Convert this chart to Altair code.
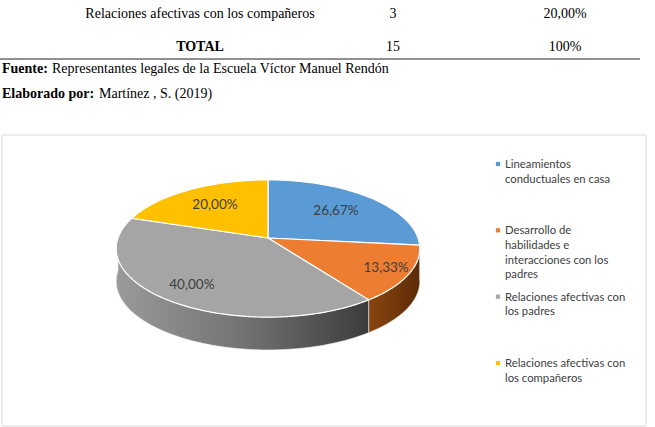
import math
import altair as alt
import pandas as pd

# ---------------- data ----------------
categorias = [
    "Lineamientos conductuales en casa",
    "Desarrollo de habilidades e interacciones con los padres",
    "Relaciones afectivas con los padres",
    "Relaciones afectivas con los compañeros",
]
frecuencias = [4, 2, 6, 3]
etiquetas = ["26,67%", "13,33%", "40,00%", "20,00%"]
leyenda = [
    "Lineamientos\nconductuales en casa",
    "Desarrollo de\nhabilidades e\ninteracciones con los\npadres",
    "Relaciones afectivas con\nlos padres",
    "Relaciones afectivas con\nlos compañeros",
]

fila_textos = ["Relaciones afectivas con los compañeros", "3", "20,00%"]
total_textos = ["TOTAL", "15", "100%"]
fuente_titulo = "Fuente:"
fuente_texto = "Representantes legales de la Escuela Víctor Manuel Rendón"
elaborado_titulo = "Elaborado por:"
elaborado_texto = "Martínez , S. (2019)"

# ---------------- style ----------------
colores = ["#5B9BD5", "#ED7D31", "#A5A5A5", "#FFC000"]
radio_etiqueta = [0.65, 0.85, 0.78, 0.65]
K = 0.153      # perspective
PROF = 0.49    # side depth (in y units)

def proj(ang, f=1.0):
    t = math.radians(ang)
    X = f * math.sin(t)
    Z = f * math.cos(t)
    d = 1 + K * Z
    return X / d, Z / d

total = sum(frecuencias)
top_rows, side_rows, lab_rows = [], [], []
acum = 0
for i, (cat, fr) in enumerate(zip(categorias, frecuencias)):
    a0 = acum * 360.0 / total
    acum += fr
    a1 = acum * 360.0 / total
    n = max(2, int(a1 - a0) + 1)
    angs = [a0 + (a1 - a0) * j / (n - 1) for j in range(n)]
    top_rows.append(dict(cat=cat, s=i, o=0, x=0.0, y=0.0))
    for j, a in enumerate(angs):
        x, y = proj(a)
        top_rows.append(dict(cat=cat, s=i, o=j + 1, x=x, y=y))
    s0, s1 = max(a0, 90.0), min(a1, 270.0)
    if s1 > s0:
        m = max(2, int(s1 - s0) + 1)
        sa = [s0 + (s1 - s0) * j / (m - 1) for j in range(m)]
        o = 0
        for a in sa:
            x, y = proj(a)
            side_rows.append(dict(cat=cat, s=i, o=o, x=x, y=y)); o += 1
        for a in reversed(sa):
            x, y = proj(a)
            side_rows.append(dict(cat=cat, s=i, o=o, x=x, y=y - PROF)); o += 1
    lx, ly = proj((a0 + a1) / 2, radio_etiqueta[i])
    lab_rows.append(dict(cat=cat, x=lx, y=ly, t=etiquetas[i]))

top_df = pd.DataFrame(top_rows)
side_df = pd.DataFrame(side_rows)
lab_df = pd.DataFrame(lab_rows)
leg_df = pd.DataFrame(dict(cat=categorias, leyenda=leyenda))

xs = alt.Scale(domain=[-1, 1], range=[118, 418], zero=False, nice=False)
ys = alt.Scale(domain=[-1, 1], range=[305, 171], zero=False, nice=False)
col = alt.Color("cat:N", scale=alt.Scale(domain=categorias, range=colores), legend=None)

X = alt.X("x:Q", scale=xs, axis=None)
Y = alt.Y("y:Q", scale=ys, axis=None)

# chart frame
frame = alt.Chart(pd.DataFrame({"a": [0]})).mark_rect(
    fill="white", stroke="#d9d9d9", strokeWidth=1
).encode(x=alt.value(2), x2=alt.value(646), y=alt.value(135), y2=alt.value(426))

side_fills = {
    0: "#2f5f8c",
    1: alt.Gradient(gradient="linear", x1=0, x2=1, y1=0, y2=0,
                    stops=[alt.GradientStop(color="#8a4510", offset=0),
                           alt.GradientStop(color="#5c2b07", offset=1)]),
    2: alt.Gradient(gradient="linear", x1=0, x2=1, y1=0, y2=0,
                    stops=[alt.GradientStop(color="#9a9a9a", offset=0),
                           alt.GradientStop(color="#737373", offset=0.5),
                           alt.GradientStop(color="#3c3c3c", offset=1)]),
    3: "#b08500",
}
side_layers = []
for s in sorted(side_df["s"].unique()):
    side_layers.append(
        alt.Chart(side_df[side_df["s"] == s]).mark_line(
            filled=True, interpolate="linear-closed", fill=side_fills[int(s)],
            stroke="#f2f2f2", strokeWidth=0.6
        ).encode(x=X, y=Y, order="o:Q", detail="s:N")
    )

tops = alt.Chart(top_df).mark_line(
    filled=True, interpolate="linear-closed", stroke="white", strokeWidth=1.2
).encode(x=X, y=Y, order="o:Q", detail="s:N", color=col)

labels = alt.Chart(lab_df).mark_text(
    font="Lato", fontSize=13.5, color="#404040"
).encode(x=X, y=Y, text="t:N")

ly = alt.Y("cat:N", scale=alt.Scale(type="point", domain=categorias, range=[164, 363], padding=0), axis=None)
leg_sq = alt.Chart(leg_df).mark_square(size=18, opacity=1).encode(
    x=alt.value(498), y=ly, color=col)
leg_tx = alt.Chart(leg_df).mark_text(
    align="left", baseline="alphabetic", dy=4, lineBreak="\n", lineHeight=14.7,
    font="Lato", fontSize=11.3, color="#404040"
).encode(x=alt.value(505), y=ly, text="leyenda:N")

# document text
doc_c = pd.DataFrame(dict(t=[fila_textos[0], fila_textos[1], fila_textos[2], total_textos[1], total_textos[2]],
                          px=[200, 393, 565, 393, 565], py=[14, 14, 14, 47, 47]))
doc_cb = pd.DataFrame(dict(t=[total_textos[0]], px=[200], py=[47]))
doc_lb = pd.DataFrame(dict(t=[fuente_titulo, elaborado_titulo], px=[2, 2], py=[69, 94]))
doc_l = pd.DataFrame(dict(t=[fuente_texto, elaborado_texto], px=[52, 99], py=[69, 94]))

def doc_layer(df, align, weight):
    return alt.Chart(df).mark_text(
        align=align, baseline="middle", font="Liberation Serif", fontSize=14,
        fontWeight=weight, color="black"
    ).encode(x=alt.X("px:Q", scale=None, axis=None),
             y=alt.Y("py:Q", scale=None, axis=None), text="t:N")

rule = alt.Chart(pd.DataFrame({"a": [0]})).mark_rule(color="#222222", strokeWidth=1).encode(
    x=alt.value(0), x2=alt.value(640), y=alt.value(59))

chart = alt.layer(
    frame, *side_layers, tops, labels, leg_sq, leg_tx,
    doc_layer(doc_c, "center", "normal"), doc_layer(doc_cb, "center", "bold"),
    doc_layer(doc_lb, "left", "bold"), doc_layer(doc_l, "left", "normal"), rule
).resolve_scale(x="independent", y="independent").properties(
    width=655, height=427, padding=0,
    autosize=alt.AutoSizeParams(type="none"), background="white"
).configure_view(stroke=None)

chart.save("out.html", embed_options={"renderer": "svg", "actions": False})
